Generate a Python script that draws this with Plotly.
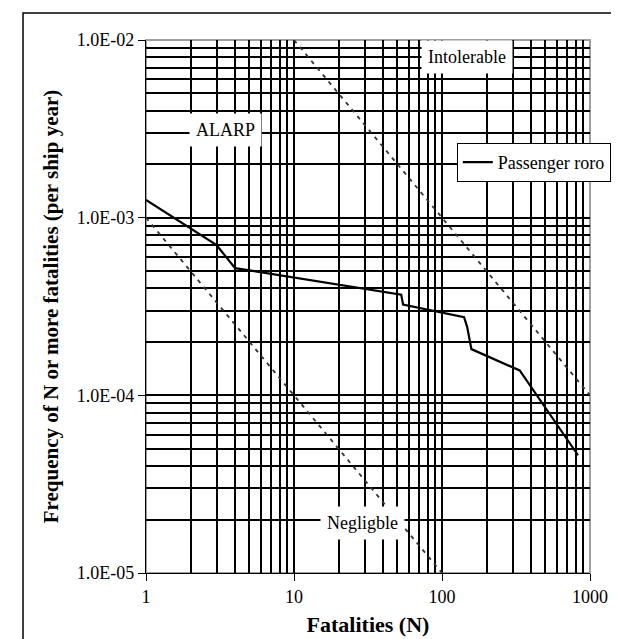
import numpy as np
import plotly.graph_objects as go

# ---- data ----
roro_n = [1, 3, 4, 53, 54.6, 141, 148, 158, 335, 830]
roro_f = [1.26e-3, 7.0e-4, 5.2e-4, 3.69e-4, 3.24e-4, 2.75e-4, 2.42e-4, 1.82e-4, 1.38e-4, 4.6e-5]

intol_n = [10, 1000]
intol_f = [1e-2, 1e-4]

negl_n = [1, 100]
negl_f = [1e-3, 1e-5]

x_ticks = [1, 10, 100, 1000]
x_ticktext = ["1", "10", "100", "1000"]
y_ticks = [1e-5, 1e-4, 1e-3, 1e-2]
y_ticktext = ["1.0E-05", "1.0E-04", "1.0E-03", "1.0E-02"]

labels = ["Intolerable", "ALARP", "Negligble"]
label_n = [148, 3.45, 29.0]
label_f = [8.0e-3, 3.1e-3, 1.9e-5]

x_minor = [m * 10 ** d for d in range(0, 3) for m in range(2, 10)]
y_minor = [m * 10 ** d for d in range(-5, -2) for m in range(2, 10)]

SERIF = "Liberation Serif"
GRID_W = 1.6

fig = go.Figure()
dash_style = dict(color="#333333", width=1.8, dash="4px,5px")
fig.add_trace(go.Scatter(x=intol_n, y=intol_f, mode="lines", line=dash_style, showlegend=False))
fig.add_trace(go.Scatter(x=negl_n, y=negl_f, mode="lines", line=dash_style, showlegend=False))
fig.add_trace(go.Scatter(x=roro_n, y=roro_f, mode="lines", name="Passenger roro",
                         line=dict(color="black", width=2.2)))

for t, xn, yf in zip(labels, label_n, label_f):
    fig.add_annotation(x=np.log10(xn), y=np.log10(yf), xref="x", yref="y", text=t,
                       showarrow=False, bgcolor="white", borderpad=6,
                       font=dict(family=SERIF, size=18, color="black"))

axis_common = dict(
    type="log", showline=True, linecolor="black", linewidth=1.4,
    ticks="outside", ticklen=7, tickwidth=1.4, tickcolor="black",
    showgrid=True, gridcolor="black", gridwidth=GRID_W, zeroline=False,
    tickfont=dict(family=SERIF, size=18, color="black"),
)

fig.update_xaxes(**axis_common, range=[0, 3], tickvals=x_ticks, ticktext=x_ticktext,
                 minor=dict(tickvals=x_minor, showgrid=True, gridcolor="black", gridwidth=GRID_W, ticks=""),
                 title=dict(text="<b>Fatalities (N)</b>", font=dict(family=SERIF, size=22, color="black"),
                            standoff=10))
fig.update_yaxes(**axis_common, range=[-5, -2], tickvals=y_ticks, ticktext=y_ticktext,
                 minor=dict(tickvals=y_minor, showgrid=True, gridcolor="black", gridwidth=GRID_W, ticks=""),
                 title=dict(text="<b>Frequency of N or more fatalities (per ship year)</b>",
                            font=dict(family=SERIF, size=21, color="black"), standoff=12))

# outer chart frame and grey plot-area border
fig.add_shape(type="rect", xref="paper", yref="paper", x0=-0.277, x1=1.0676, y0=-0.2, y1=1.0507,
              line=dict(color="black", width=1.5), layer="below")
fig.add_shape(type="rect", xref="paper", yref="paper", x0=0, x1=1, y0=0, y1=1,
              line=dict(color="#a0a0a0", width=2), layer="below")

fig.update_layout(
    width=619, height=639,
    margin=dict(l=138, r=37, t=32, b=74),
    plot_bgcolor="white", paper_bgcolor="white",
    legend=dict(x=0.70, y=0.807, xanchor="left", yanchor="top",
                bgcolor="white", bordercolor="black", borderwidth=1,
                font=dict(family=SERIF, size=18, color="black"), itemwidth=30,
                tracegroupgap=0),
    showlegend=True,
)

fig.write_html("out.html")
